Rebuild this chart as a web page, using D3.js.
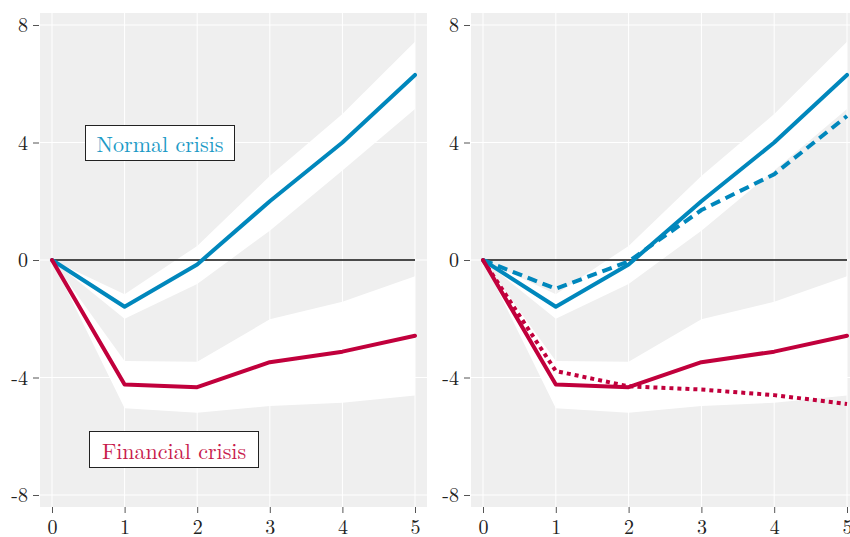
<!DOCTYPE html>
<html><head><meta charset="utf-8">
<script src="https://cdn.jsdelivr.net/npm/d3@7"></script>
<style>body{margin:0;background:#fff}svg{display:block}</style>
</head><body>
<svg id="c" width="850" height="537"></svg>
<script>
const horizons = [0, 1, 2, 3, 4, 5];
const yTicks = [-8, -4, 0, 4, 8];
const normal = [0, -1.59, -0.15, 2.0, 4.0, 6.3];
const normalLo = [0, -2.0, -0.82, 1.0, 3.05, 5.14];
const normalHi = [0, -1.17, 0.48, 2.86, 4.97, 7.43];
const financial = [0, -4.24, -4.33, -3.48, -3.12, -2.58];
const financialLo = [0, -5.05, -5.2, -4.97, -4.86, -4.61];
const financialHi = [0, -3.44, -3.46, -2.02, -1.42, -0.55];
const normalAlt = [0, -0.98, -0.05, 1.7, 2.92, 4.9];
const financialAlt = [0, -3.78, -4.3, -4.41, -4.6, -4.9];
const labels = ["Normal crisis", "Financial crisis"];

const blue = "#0087bc", red = "#c1003c";
const font = '"Latin Modern Roman", "CMU Serif", "Liberation Serif", serif';
const svg = d3.select("#c");

function panel(left, right, x0px, x5px, withAlt, withLabels) {
  const x = d3.scaleLinear().domain([0, 5]).range([x0px, x5px]);
  const y = d3.scaleLinear().domain([-8, 8]).range([495, 25]);
  const g = svg.append("g");
  const top = 13, bottom = 507;
  g.append("rect").attr("x", left).attr("y", top).attr("width", right - left).attr("height", bottom - top).attr("fill", "#efefef");
  g.selectAll(".vg").data(horizons).join("line")
    .attr("x1", d => x(d)).attr("x2", d => x(d)).attr("y1", top).attr("y2", bottom)
    .attr("stroke", "#fff").attr("stroke-width", 1);
  g.selectAll(".hg").data(yTicks).join("line")
    .attr("x1", left).attr("x2", right).attr("y1", d => y(d)).attr("y2", d => y(d))
    .attr("stroke", "#fff").attr("stroke-width", 1);
  const area = (lo, hi) => d3.area().x((d, i) => x(horizons[i])).y0((d, i) => y(lo[i])).y1((d, i) => y(hi[i]))(horizons);
  g.append("path").attr("d", area(normalLo, normalHi)).attr("fill", "#fff");
  g.append("path").attr("d", area(financialLo, financialHi)).attr("fill", "#fff");
  g.append("line").attr("x1", x(0)).attr("x2", x(5)).attr("y1", y(0)).attr("y2", y(0))
    .attr("stroke", "#111").attr("stroke-width", 1.3);
  const line = vals => d3.line().x((d, i) => x(horizons[i])).y((d, i) => y(vals[i]))(horizons);
  if (withAlt) {
    g.append("path").attr("d", line(normalAlt)).attr("fill", "none").attr("stroke", blue)
      .attr("stroke-width", 4).attr("stroke-dasharray", "10,6");
    g.append("path").attr("d", line(financialAlt)).attr("fill", "none").attr("stroke", red)
      .attr("stroke-width", 4).attr("stroke-dasharray", "4,4");
  }
  g.append("path").attr("d", line(normal)).attr("fill", "none").attr("stroke", blue)
    .attr("stroke-width", 4).attr("stroke-linejoin", "round").attr("stroke-linecap", "round");
  g.append("path").attr("d", line(financial)).attr("fill", "none").attr("stroke", red)
    .attr("stroke-width", 4).attr("stroke-linejoin", "round").attr("stroke-linecap", "round");
  const ya = d3.axisLeft(y).tickValues(yTicks).tickSize(6).tickPadding(5).tickFormat(d => String(d));
  const yg = svg.append("g").attr("transform", `translate(${left - 1},0)`).call(ya);
  yg.select(".domain").remove();
  yg.selectAll("line").attr("stroke", "#555");
  yg.selectAll("text").attr("font-family", font).attr("font-size", 20).attr("fill", "#222").attr("dy", "0.33em");
  const xa = d3.axisBottom(x).tickValues(horizons).tickSize(6).tickPadding(7).tickFormat(d => String(d));
  const xg = svg.append("g").attr("transform", `translate(0,${bottom})`).call(xa);
  xg.select(".domain").remove();
  xg.selectAll("line").attr("stroke", "#555");
  xg.selectAll("text").attr("font-family", font).attr("font-size", 20).attr("fill", "#222");
  if (withLabels) {
    const boxes = [
      {t: labels[0], x: 85, y: 125, w: 149, h: 35, base: 152, c: "#1c9ac6"},
      {t: labels[1], x: 89, y: 431, w: 169, h: 36, base: 458.5, c: "#c81a4c"}
    ];
    boxes.forEach(b => {
      g.append("rect").attr("x", b.x + 0.5).attr("y", b.y + 0.5).attr("width", b.w).attr("height", b.h)
        .attr("fill", "#fff").attr("stroke", "#222").attr("stroke-width", 1);
      g.append("text").attr("x", b.x + b.w / 2 + 0.5).attr("y", b.base)
        .attr("text-anchor", "middle").attr("font-family", font).attr("font-size", 22)
        .attr("fill", b.c).text(b.t);
    });
  }
}
panel(40, 427, 52, 415, false, true);
panel(471, 859, 483, 847, true, false);
</script>
</body></html>
